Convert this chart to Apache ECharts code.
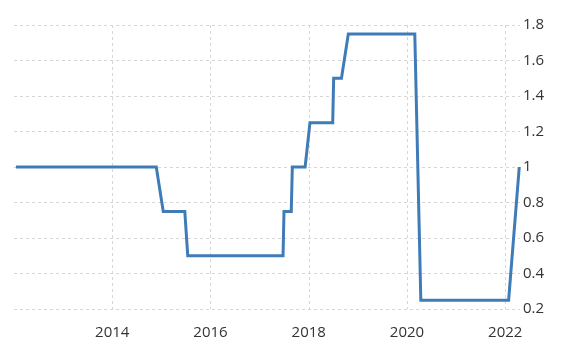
<!DOCTYPE html>
<html>
<head>
<meta charset="utf-8">
<script src="https://cdn.jsdelivr.net/npm/echarts@6/dist/echarts.min.js"></script>
<style>
  html, body { margin: 0; padding: 0; background: #ffffff; }
  #chart { width: 579px; height: 361px; }
</style>
</head>
<body>
<div id="chart"></div>
<script>
// Policy rate (%) — change points
var dates = [
  '2012-01-15', '2014-11-24', '2015-01-15', '2015-06-24', '2015-07-16',
  '2017-06-24', '2017-07-01', '2017-08-24', '2017-09-01', '2017-12-05',
  '2018-01-10', '2018-06-28', '2018-07-05', '2018-09-01', '2018-10-22',
  '2020-02-28', '2020-04-13', '2022-01-26', '2022-04-15'
];
var rates = [
  1.00, 1.00, 0.75, 0.75, 0.50,
  0.50, 0.75, 0.75, 1.00, 1.00,
  1.25, 1.25, 1.50, 1.50, 1.75,
  1.75, 0.25, 0.25, 1.00
];
var yTicks = [0.2, 0.4, 0.6, 0.8, 1, 1.2, 1.4, 1.6, 1.8];

function toYear(s) {
  var p = s.split('-').map(Number);
  var start = Date.UTC(p[0], 0, 1);
  var end = Date.UTC(p[0] + 1, 0, 1);
  return p[0] + (Date.UTC(p[0], p[1] - 1, p[2]) - start) / (end - start);
}

var seriesData = dates.map(function (d, i) { return [toYear(d), rates[i]]; });

var chart = echarts.init(document.getElementById('chart'), null, { renderer: 'canvas' });
var gridStyle = { color: '#d6d6d6', width: 1, type: [3, 3] };

chart.setOption({
  animation: false,
  backgroundColor: '#ffffff',
  grid: { left: 14, right: 59, top: 25, bottom: 52, containLabel: false },
  xAxis: {
    type: 'value',
    min: 2012,
    max: 2022.3,
    interval: 2,
    axisLine: { show: false },
    axisTick: { show: false },
    splitLine: { show: true, showMinLine: false, showMaxLine: false, lineStyle: gridStyle },
    axisLabel: {
      showMinLabel: false, showMaxLabel: false,
      margin: 16,
      color: '#333333', fontSize: 15, fontFamily: 'Open Sans',
      formatter: function (v) { return String(v); }
    }
  },
  yAxis: {
    type: 'value',
    position: 'right',
    min: yTicks[0],
    max: yTicks[yTicks.length - 1],
    interval: 0.2,
    axisLine: { show: false },
    axisTick: { show: false },
    splitLine: { show: true, lineStyle: gridStyle },
    axisLabel: {
      margin: 3,
      color: '#333333', fontSize: 15, fontFamily: 'Open Sans',
      formatter: function (v) { return String(Math.round(v * 10) / 10); }
    }
  },
  series: [{
    type: 'line',
    data: seriesData,
    showSymbol: false,
    symbol: 'none',
    lineStyle: { color: '#3f7bb7', width: 3, join: 'miter' }
  }]
});
</script>
</body>
</html>
